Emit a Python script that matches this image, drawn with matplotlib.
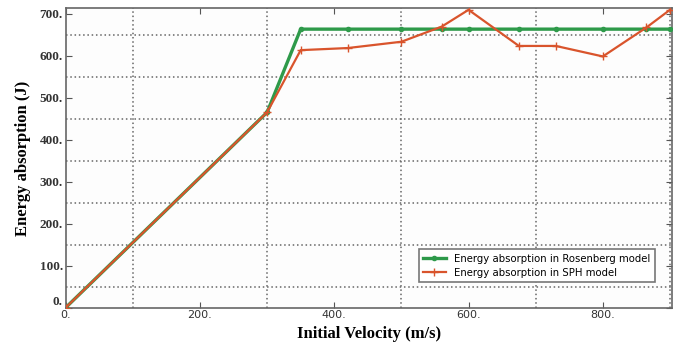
import matplotlib
matplotlib.use('Agg')
from matplotlib import pyplot as plt
from matplotlib.ticker import MultipleLocator, FuncFormatter

vel_rosenberg = [0, 300, 350, 420, 500, 560, 600, 675, 730, 800, 865, 900]
energy_rosenberg = [0, 465, 663, 663, 663, 663, 663, 663, 663, 663, 663, 663]
vel_sph = [0, 300, 350, 420, 500, 560, 600, 675, 730, 800, 865, 900]
energy_sph = [0, 465, 613, 618, 633, 669, 709, 623, 623, 598, 667, 709]

green = '#2e9a4a'
orange = '#d9542c'

fig = plt.figure(figsize=(6.82, 3.54), dpi=100)
ax = fig.add_axes([0.0963, 0.131, 0.889, 0.846])
ax.set_facecolor('#fdfdfd')

ax.plot(vel_rosenberg, energy_rosenberg, color=green, lw=2.4, marker='o', markersize=3,
        label='Energy absorption in Rosenberg model', zorder=3)
ax.plot(vel_sph, energy_sph, color=orange, lw=1.6, marker='+', markersize=6, mew=1,
        label='Energy absorption in SPH model', zorder=4)

ax.set_xlim(0, 903)
ax.set_ylim(0, 713)

ax.xaxis.set_major_locator(MultipleLocator(200))
ax.yaxis.set_major_locator(MultipleLocator(100))
ax.xaxis.set_major_formatter(FuncFormatter(lambda v, p: '%d.' % v))
# the y "0." is placed by hand below, lifted clear of the x "0."
ax.yaxis.set_major_formatter(FuncFormatter(lambda v, p: '%d.' % v if v > 0 else ''))

# dotted grid sits between the labelled ticks
for xv in range(100, 1000, 200):
    ax.axvline(xv, color='#666666', ls=(0, (1, 1.8)), lw=1.1, zorder=1)
for yv in range(50, 700, 100):
    ax.axhline(yv, color='#666666', ls=(0, (1, 1.8)), lw=1.1, zorder=1)

ax.tick_params(which='both', direction='in', top=True, right=True, colors='#555555')
ax.tick_params(which='major', length=4, labelsize=8, labelcolor='#333333', pad=2)
for lab in ax.get_yticklabels():
    lab.set_family('Liberation Serif')
    lab.set_fontsize(9.5)
    lab.set_fontweight('bold')
for s in ax.spines.values():
    s.set_color('#666666')
    s.set_linewidth(1.2)

ax.annotate('0.', xy=(0, 0), xycoords='data', xytext=(-2, 0), textcoords='offset points',
            ha='right', va='bottom', family='Liberation Serif', fontsize=9.5,
            fontweight='bold', color='#333333', annotation_clip=False)

ax.set_xlabel('Initial Velocity (m/s)', family='Liberation Serif', fontweight='bold',
              fontsize=12, labelpad=4)
ax.set_ylabel('Energy absorption (J)', family='Liberation Serif', fontweight='bold',
              fontsize=12, labelpad=6)

leg = ax.legend(loc='lower left', bbox_to_anchor=(0.574, 0.068), fontsize=7.3,
                fancybox=False, framealpha=1, edgecolor='#777777',
                handlelength=2.2, borderpad=0.45, labelspacing=0.4)
leg.get_frame().set_linewidth(1.2)

plt.savefig('out.png', dpi=100)
